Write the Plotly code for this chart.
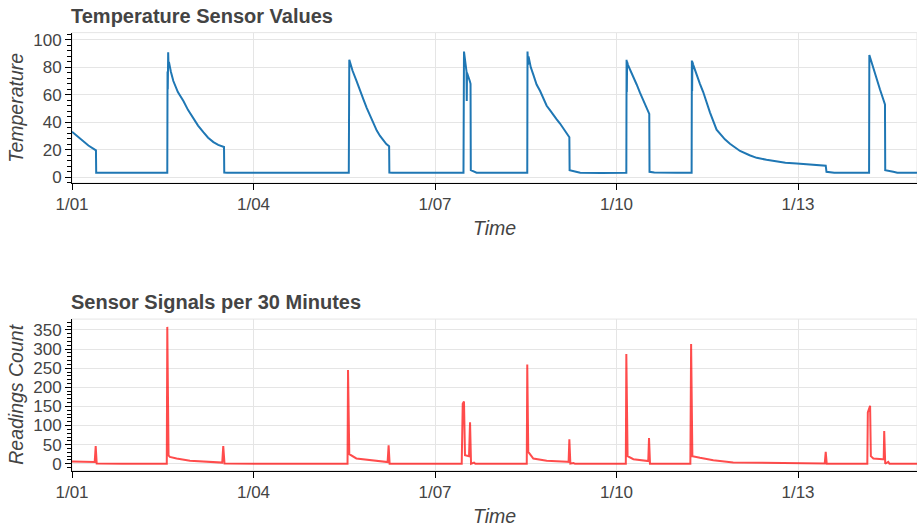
import pandas as pd
import plotly.graph_objects as go

# Sensor log: hours since 2024-01-01 00:00 and the recorded temperature
start = pd.Timestamp("2024-01-01 00:00")

temp_hours = [
    0, 3.2, 6.5, 9.5, 9.6,
    20, 30, 37.8, 37.9, 38.0, 38.15, 38.3, 38.45, 39.2, 40.2, 42.0, 44.2, 46.0, 48.1, 50.0,
    52.1, 54.0, 56.1, 58.0, 60.3, 60.4,
    61.5, 80, 100, 109.8, 110.0, 111.3, 112.9, 114.2, 115.6, 116.9, 118.2, 119.5, 120.9,
    122.2, 123.5, 124.7, 125.8, 125.9,
    127, 140, 155.3, 155.5, 156.5, 156.6, 156.7, 157.8, 158.1, 158.2, 159.0, 160.5,
    170, 180.6, 180.7, 180.9, 181.1, 182.0, 183.0, 184.3, 185.7, 187.0, 188.3, 189.6, 190.9,
    192.2, 193.6, 195.5, 197.3, 197.4, 201.6,
    210, 219.9, 220.0, 220.1, 220.2, 220.5, 222.7, 224.0, 225.3, 227.2, 229.0, 229.1, 231,
    240, 245.8, 245.9, 246.0, 246.1, 246.4, 247.5, 249.1, 250.4, 253.1, 255.7, 257.0, 259.0,
    261.0, 263.0, 265.0, 268.8, 271.6, 275.5, 279.6, 283.0, 287.5, 291.0, 294.0, 297.0,
    299.0, 299.3, 302.4,
    310, 316.2, 316.3, 317.9, 319.2, 320.5, 322.5, 322.6, 325.8, 327.4, 335.2,
]
temp_values = [
    33, 27.9, 23, 19.5, 3.2,
    3.1, 3.1, 3.1, 77, 64, 91, 81, 84, 77, 70, 62, 55.5, 49, 43, 37.5,
    32.7, 28.7, 25.5, 23.5, 21.9, 3.2,
    3.1, 3.1, 3.1, 3.1, 85.5, 77.5, 70, 63, 56.7, 50.5, 44.7, 39, 33.9,
    30, 26.7, 24, 22.4, 3.2,
    3.1, 3.1, 3.1, 91.5, 77, 55.5, 76, 70, 68, 5, 4.5, 3.2,
    3.1, 3.1, 91.5, 82, 88, 80, 74.7, 67.5, 62.7, 57, 52, 48.8, 45.9,
    42.3, 39, 34, 29, 5, 3.2,
    3.0, 3.2, 85.5, 62, 84, 82, 73.5, 67.5, 61.5, 53.5, 46, 3.8, 3.3,
    3.2, 3.2, 85, 62.7, 84, 82, 76, 68, 62, 47, 34.5, 31.5, 27.5,
    24.3, 21.4, 19, 15.9, 14, 12.6, 11.2, 10.5, 9.9, 9.4, 9, 8.6,
    8.3, 3.8, 3.2,
    3.1, 3.1, 89, 79.5, 70, 64, 53, 5, 3.8, 3.1, 3.1,
]

# Number of readings received in each 30-minute window
count_hours = [
    0, 4, 9.0, 9.4, 9.8,
    20, 37.6, 37.8, 38.3, 38.8, 41.5, 46.8, 52.1, 58.8, 59.6, 60.0, 60.5,
    80, 109.3, 109.5, 110.0, 112.8, 118.2, 124.1, 125.2, 125.6, 126.0,
    140, 154.6, 155.0, 155.5, 155.9, 157.5, 157.9, 158.3, 159.5, 160.0,
    170, 180.4, 180.6, 181.0, 183.0, 188.3, 196.3, 197.0, 197.3, 197.7, 199.0, 199.5,
    210, 219.7, 219.9, 220.4, 222.7, 228.0, 228.6, 228.9, 229.3,
    240, 245.3, 245.6, 246.1, 249.1, 254.4, 262.3, 275.5, 287.5, 298.6, 299.0, 299.4,
    310, 315.5, 315.7, 316.6, 316.9, 317.9, 321.6, 322.0, 322.2, 322.6, 323.8, 324.3, 335.2,
]
count_values = [
    6, 5.5, 4.5, 46.6, 0.5,
    0, 0, 358, 22, 18, 13.8, 8, 6.5, 3.5, 3, 46, 0.5,
    0, 0, 245, 25, 14, 10.3, 5.2, 4.5, 48, 0,
    0, 0, 157, 163, 22.5, 20, 108.6, 0, 3, 0,
    0, 0, 259.5, 31, 13.8, 7.8, 5.2, 5, 64, 0.5, 2, 0,
    0, 0, 287, 20, 12, 7.8, 7, 67, 0,
    0, 0, 313, 20, 15.5, 9, 3.4, 1.7, 0.5, 0.5, 31, 0,
    0, 0, 134.5, 151.8, 20, 14, 12, 12, 85.4, 0, 5, 0, 0,
]

temp_title = "Temperature Sensor Values"
count_title = "Sensor Signals per 30 Minutes"

temp_time = start + pd.to_timedelta(temp_hours, unit="h")
count_time = start + pd.to_timedelta(count_hours, unit="h")
x_end = start + pd.Timedelta(days=13.967)

FONT = "Liberation Sans, Helvetica, Arial, sans-serif"
TEXT = "#444444"
GRID = "#e5e5e5"
W, H = 917, 532
LEFT = 72

fig = go.Figure()
fig.add_trace(go.Scatter(x=temp_time, y=temp_values, mode="lines",
                         line=dict(color="#1f77b4", width=2),
                         xaxis="x", yaxis="y", showlegend=False))
fig.add_trace(go.Scatter(x=count_time, y=count_values, mode="lines",
                         line=dict(color="rgba(255,0,0,0.7)", width=2),
                         xaxis="x2", yaxis="y2", showlegend=False))


def px_domain(top_px, bottom_px):
    return [1 - bottom_px / H, 1 - top_px / H]


xcommon = dict(
    type="date", range=[start, x_end], tick0=start, dtick=3 * 86400000,
    tickformat="%-m/%d", showgrid=True, gridcolor=GRID, gridwidth=1,
    showline=True, linecolor="black", linewidth=1,
    ticks="outside", ticklen=6, tickcolor="black", tickwidth=1,
    tickfont=dict(family=FONT, size=17, color=TEXT),
    zeroline=False, domain=[0, 1],
)
ycommon = dict(
    showgrid=True, gridcolor=GRID, gridwidth=1, zeroline=False,
    showline=True, linecolor="black", linewidth=1,
    ticks="outside", ticklen=6, tickcolor="black", tickwidth=1,
    tickfont=dict(family=FONT, size=17, color=TEXT),
)
AXT = dict(family=FONT, size=19.5, color=TEXT)
xtitle = dict(text="<i>Time</i>", font=AXT, standoff=8)

fig.update_layout(
    width=W, height=H, autosize=False,
    margin=dict(l=LEFT, r=0, t=0, b=0),
    paper_bgcolor="white", plot_bgcolor="white",
    xaxis=dict(**xcommon, anchor="y", title=xtitle),
    yaxis=dict(**ycommon, anchor="x", domain=px_domain(31, 183), range=[-4.3, 105.3],
               tick0=0, dtick=20,
               minor=dict(dtick=4, ticks="outside", ticklen=4, tickcolor="black", showgrid=False),
               title=dict(text="<i>Temperature</i>", font=AXT, standoff=4)),
    xaxis2=dict(**xcommon, anchor="y2", title=xtitle),
    yaxis2=dict(**ycommon, anchor="x2", domain=px_domain(320.7, 474), range=[-18, 378.4],
                tick0=0, dtick=50,
                minor=dict(dtick=10, ticks="outside", ticklen=4, tickcolor="black", showgrid=False),
                title=dict(text="<i>Readings Count</i>", font=AXT, standoff=4)),
)

# Light outline around each plot frame
for xr, yr in (("x domain", "y domain"), ("x2 domain", "y2 domain")):
    fig.add_shape(type="rect", xref=xr, yref=yr, x0=0, x1=1, y0=0, y1=1,
                  line=dict(color=GRID, width=1), layer="below")

# Panel titles
for text, y_px in ((temp_title, 14), (count_title, 303)):
    fig.add_annotation(text=f"<b>{text}</b>", xref="paper", yref="paper",
                       x=0, y=1 - y_px / H, xanchor="left", yanchor="middle",
                       xshift=-3, showarrow=False, font=dict(family=FONT, size=20, color=TEXT))

fig.write_html("out.html")
